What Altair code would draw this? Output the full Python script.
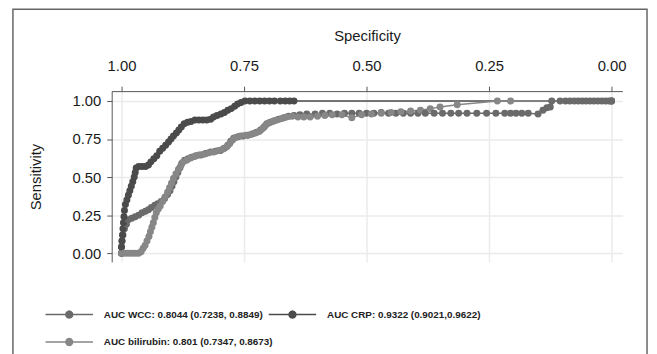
import math
import altair as alt
import pandas as pd

series_names = [
    "AUC WCC: 0.8044 (0.7238, 0.8849)",
    "AUC CRP: 0.9322 (0.9021,0.9622)",
    "AUC bilirubin: 0.801 (0.7347, 0.8673)",
]
series_colors = ["#6a6a6a", "#4b4b4b", "#878787"]

x_ticks = [1.0, 0.75, 0.5, 0.25, 0.0]
y_ticks = [0.0, 0.25, 0.5, 0.75, 1.0]

wcc_spec = [1.000, 1.000, 0.999, 0.997, 0.994, 0.990, 0.986, 0.979, 0.972, 0.965, 0.958, 0.951, 0.945, 0.939,
            0.932, 0.926, 0.919, 0.912, 0.906, 0.901, 0.897, 0.893, 0.889, 0.885, 0.881, 0.877, 0.871, 0.864,
            0.857, 0.848, 0.838, 0.828, 0.818, 0.808, 0.798, 0.790, 0.783, 0.777, 0.771, 0.762, 0.752, 0.742,
            0.732, 0.724, 0.716, 0.709, 0.703, 0.696, 0.688, 0.679, 0.669, 0.659, 0.648, 0.636, 0.622, 0.605,
            0.590, 0.575, 0.560, 0.545, 0.530, 0.515, 0.500, 0.485, 0.470, 0.455, 0.440, 0.425, 0.410, 0.395,
            0.380, 0.362, 0.345, 0.328, 0.312, 0.295, 0.275, 0.255, 0.236, 0.218, 0.206, 0.195, 0.183, 0.170,
            0.150, 0.140, 0.132, 0.125, 0.122, 0.105, 0.094, 0.085, 0.076, 0.068, 0.060, 0.052, 0.044, 0.036,
            0.028, 0.020, 0.012, 0.005, 0.000]
wcc_sens = [0.00, 0.04, 0.08, 0.12, 0.16, 0.19, 0.22, 0.23, 0.24, 0.25, 0.265, 0.275, 0.285, 0.30,
            0.315, 0.325, 0.34, 0.36, 0.385, 0.41, 0.44, 0.47, 0.50, 0.53, 0.56, 0.59, 0.61, 0.62,
            0.63, 0.64, 0.645, 0.655, 0.665, 0.67, 0.675, 0.69, 0.71, 0.735, 0.755, 0.765, 0.77, 0.775,
            0.785, 0.795, 0.81, 0.83, 0.85, 0.86, 0.87, 0.88, 0.89, 0.90, 0.905, 0.91, 0.915, 0.915,
            0.92, 0.92, 0.915, 0.92, 0.92, 0.92, 0.92, 0.92, 0.925, 0.92, 0.92, 0.92, 0.92, 0.92,
            0.92, 0.92, 0.92, 0.92, 0.92, 0.92, 0.92, 0.92, 0.92, 0.92, 0.92, 0.92, 0.92, 0.92,
            0.915, 0.94, 0.955, 0.96, 1.0, 1.0, 1.0, 1.0, 1.0, 1.0, 1.0, 1.0, 1.0, 1.0,
            1.0, 1.0, 1.0, 1.0, 1.0]

crp_spec = [1.000, 1.000, 0.999, 0.998, 0.997, 0.996, 0.995, 0.994, 0.992, 0.989, 0.986, 0.983, 0.980, 0.977,
            0.974, 0.972, 0.970, 0.965, 0.958, 0.951, 0.945, 0.940, 0.934, 0.928, 0.922, 0.916, 0.910, 0.904,
            0.899, 0.894, 0.888, 0.883, 0.878, 0.872, 0.865, 0.858, 0.850, 0.842, 0.834, 0.826, 0.818, 0.812,
            0.805, 0.797, 0.790, 0.783, 0.776, 0.769, 0.763, 0.756, 0.748, 0.738, 0.728, 0.718, 0.708, 0.698,
            0.688, 0.676, 0.666, 0.657, 0.648, 0.000]
crp_sens = [0.00, 0.04, 0.08, 0.12, 0.16, 0.20, 0.24, 0.28, 0.32, 0.35, 0.38, 0.41, 0.44, 0.47,
            0.50, 0.53, 0.56, 0.57, 0.57, 0.57, 0.58, 0.60, 0.62, 0.64, 0.67, 0.69, 0.71, 0.73,
            0.75, 0.77, 0.79, 0.81, 0.83, 0.85, 0.86, 0.865, 0.875, 0.875, 0.875, 0.875, 0.88, 0.895,
            0.905, 0.915, 0.925, 0.94, 0.95, 0.965, 0.98, 0.99, 1.0, 1.0, 1.0, 1.0, 1.0, 1.0,
            1.0, 1.0, 1.0, 1.0, 1.0, 1.0]

bil_spec = [1.000, 0.995, 0.989, 0.983, 0.977, 0.971, 0.965, 0.960, 0.956, 0.952, 0.948, 0.944, 0.941, 0.938,
            0.935, 0.932, 0.929, 0.925, 0.921, 0.916, 0.911, 0.906, 0.902, 0.898, 0.894, 0.889, 0.884, 0.879,
            0.874, 0.867, 0.859, 0.851, 0.842, 0.832, 0.822, 0.812, 0.802, 0.793, 0.785, 0.779, 0.773, 0.767,
            0.757, 0.746, 0.736, 0.727, 0.719, 0.712, 0.706, 0.700, 0.692, 0.683, 0.673, 0.663, 0.652, 0.640,
            0.628, 0.615, 0.600, 0.585, 0.570, 0.550, 0.530, 0.510, 0.490, 0.470, 0.450, 0.430, 0.410, 0.390,
            0.370, 0.350, 0.315, 0.233, 0.206, 0.000]
bil_sens = [0.00, 0.00, 0.00, 0.00, 0.00, 0.00, 0.00, 0.01, 0.03, 0.05, 0.08, 0.11, 0.14, 0.17,
            0.20, 0.235, 0.265, 0.29, 0.31, 0.34, 0.37, 0.40, 0.43, 0.46, 0.49, 0.52, 0.55, 0.575,
            0.60, 0.61, 0.625, 0.635, 0.645, 0.65, 0.66, 0.665, 0.675, 0.685, 0.70, 0.72, 0.745, 0.76,
            0.77, 0.775, 0.78, 0.79, 0.80, 0.82, 0.84, 0.855, 0.865, 0.875, 0.885, 0.895, 0.90, 0.895,
            0.895, 0.895, 0.90, 0.905, 0.91, 0.91, 0.89, 0.91, 0.915, 0.92, 0.925, 0.93, 0.935, 0.94,
            0.95, 0.96, 0.975, 1.0, 1.0, 1.0]

rows = []
for name, sp, se in [(series_names[0], wcc_spec, wcc_sens),
                     (series_names[1], crp_spec, crp_sens),
                     (series_names[2], bil_spec, bil_sens)]:
    for i, (a, b) in enumerate(zip(sp, se)):
        rows.append({"series": name, "spec": a, "sens": b, "idx": i})
df = pd.DataFrame(rows)

# legend symbol: a line with a dot in the middle
r = 0.7
poly = " ".join(
    f"{'M' if k == 0 else 'L'}{r * math.cos(2 * math.pi * k / 12):.3f},{r * math.sin(2 * math.pi * k / 12):.3f}"
    for k in range(12)
)
symbol_path = "M-4.8,0L4.8,0 " + poly + " Z"

font = "Liberation Sans, Arial, sans-serif"

color = alt.Color(
    "series:N",
    scale=alt.Scale(domain=series_names, range=series_colors),
    legend=alt.Legend(
        title=None,
        orient="none",
        legendX=-49,
        legendY=220,
        direction="horizontal",
        columns=2,
        symbolType=symbol_path,
        symbolSize=100,
        symbolStrokeWidth=1.5,
        symbolFillColor="#7a7a7a",
        symbolOpacity=1,
        labelOffset=29,
        labelFont=font,
        labelFontWeight="bold",
        labelFontSize=10,
        labelColor="#222222",
        labelLimit=400,
        columnPadding=-8,
        rowPadding=14,
    ),
)

x = alt.X(
    "spec:Q",
    scale=alt.Scale(domain=[-0.022, 1.02], reverse=True, nice=False, zero=False),
    axis=alt.Axis(
        orient="top", values=x_ticks, format=".2f", title="Specificity",
        grid=True, gridColor="#ebebeb", gridWidth=1.5,
        domainColor="#555555", tickColor="#555555", tickSize=5,
        labelFont=font, labelFontSize=15, labelColor="#1a1a1a", labelPadding=13,
        titleFont=font, titleFontSize=15, titleFontWeight="normal", titleColor="#1a1a1a",
        titlePadding=15,
    ),
)
y = alt.Y(
    "sens:Q",
    scale=alt.Scale(domain=[-0.058, 1.065], nice=False, zero=False),
    axis=alt.Axis(
        values=y_ticks, format=".2f", title="Sensitivity",
        grid=True, gridColor="#ebebeb", gridWidth=1.5,
        domainColor="#555555", tickColor="#555555", tickSize=5,
        labelFont=font, labelFontSize=15, labelColor="#1a1a1a", labelPadding=6,
        titleFont=font, titleFontSize=15, titleFontWeight="normal", titleColor="#1a1a1a",
        titlePadding=29,
    ),
)

base = alt.Chart(df).encode(x=x, y=y, color=color, order="idx:Q")
lines = base.mark_line(strokeWidth=1.5)
points = base.mark_circle(size=50, opacity=1)

frame = alt.Chart(pd.DataFrame({"k": [0]})).mark_rect(
    fill="transparent", stroke="#666666", strokeWidth=1.5
).encode(
    x=alt.value(-100), x2=alt.value(542), y=alt.value(-83), y2=alt.value(330)
)

chart = alt.layer(frame, lines, points).properties(
    width=517,
    height=173,
    autosize=alt.AutoSizeParams(type="none"),
    padding={"left": 105, "top": 82, "right": 27, "bottom": 91},
).configure_view(stroke="transparent")

chart.save("out.html", embed_options={"renderer": "svg", "actions": False})
